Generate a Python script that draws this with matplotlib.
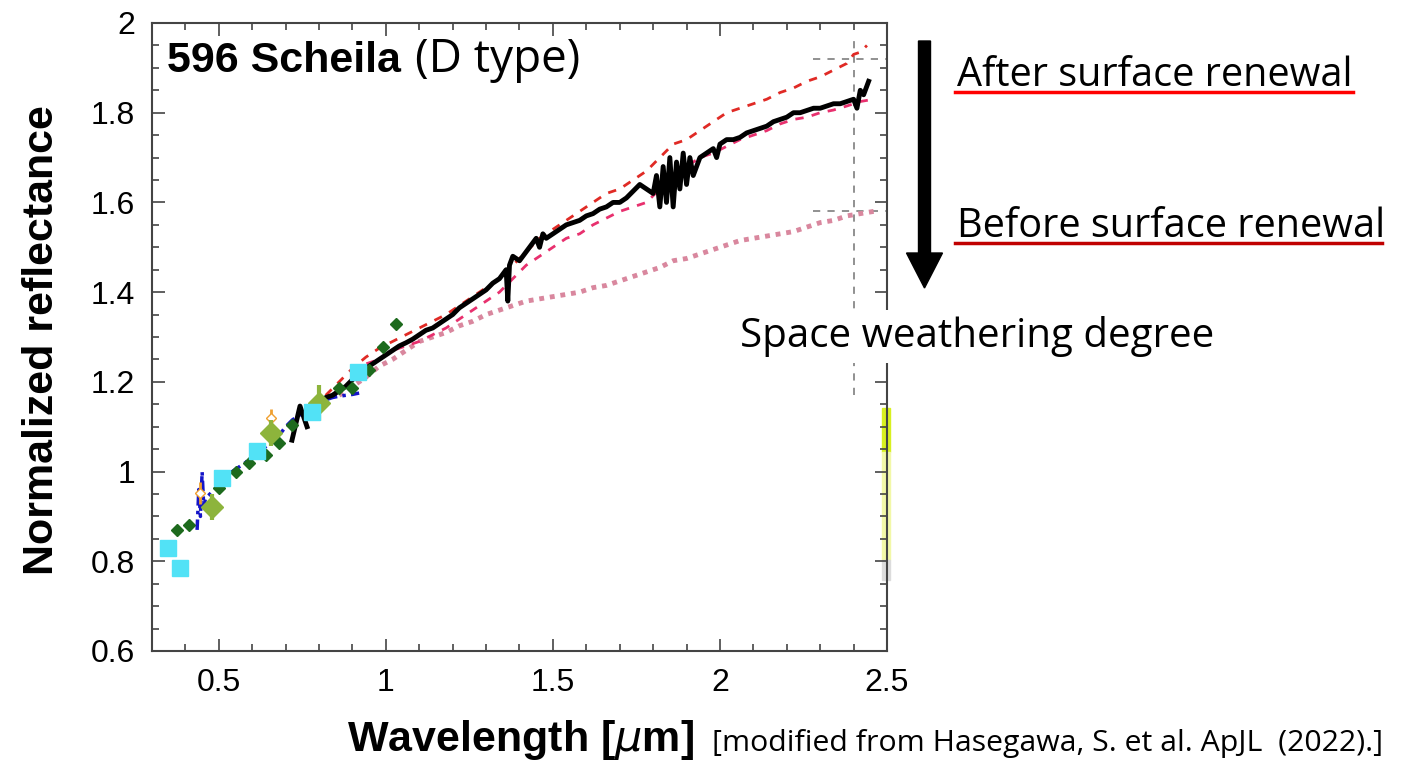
import numpy as np
import matplotlib
matplotlib.use("Agg")
import matplotlib.pyplot as plt
from matplotlib.patches import FancyArrow, Rectangle
from matplotlib.lines import Line2D
from matplotlib.ticker import MultipleLocator

# ---- data ----
# black thick line: Scheila after surface renewal
blk1_x = [0.719, 0.743, 0.764]
blk1_y = [1.07, 1.146, 1.10]
blk_x = [0.80, 0.82, 0.84, 0.86, 0.88, 0.90, 0.92, 0.94, 0.96, 0.98, 1.00, 1.02, 1.04, 1.06, 1.08,
         1.10, 1.12, 1.14, 1.16, 1.18, 1.20, 1.22, 1.24, 1.26, 1.28, 1.30, 1.32, 1.34, 1.35, 1.36,
         1.365, 1.37, 1.38, 1.40, 1.42, 1.44, 1.45, 1.46, 1.47, 1.48, 1.50, 1.52, 1.54, 1.56, 1.58,
         1.60, 1.62, 1.64, 1.66, 1.68, 1.70, 1.72, 1.74, 1.76, 1.78, 1.80, 1.81, 1.82, 1.83, 1.84,
         1.85, 1.86, 1.87, 1.88, 1.89, 1.90, 1.91, 1.92, 1.94, 1.96, 1.98, 1.99, 2.00, 2.02, 2.04,
         2.06, 2.08, 2.10, 2.12, 2.14, 2.16, 2.18, 2.20, 2.22, 2.24, 2.26, 2.28, 2.30, 2.32, 2.34,
         2.36, 2.38, 2.40, 2.41, 2.42, 2.43, 2.44, 2.445]
blk_y = [1.15, 1.165, 1.17, 1.18, 1.19, 1.205, 1.215, 1.23, 1.24, 1.25, 1.26, 1.27, 1.28, 1.287, 1.295,
         1.305, 1.315, 1.32, 1.33, 1.34, 1.35, 1.365, 1.375, 1.385, 1.395, 1.405, 1.42, 1.43, 1.44, 1.45,
         1.38, 1.46, 1.48, 1.47, 1.49, 1.51, 1.52, 1.50, 1.53, 1.52, 1.53, 1.54, 1.55, 1.555, 1.56,
         1.57, 1.575, 1.585, 1.59, 1.60, 1.60, 1.61, 1.625, 1.64, 1.63, 1.62, 1.66, 1.59, 1.68, 1.60,
         1.70, 1.59, 1.69, 1.63, 1.71, 1.64, 1.70, 1.66, 1.70, 1.71, 1.72, 1.70, 1.73, 1.74, 1.74,
         1.745, 1.755, 1.76, 1.765, 1.77, 1.78, 1.785, 1.79, 1.80, 1.80, 1.805, 1.81, 1.81, 1.815, 1.82,
         1.82, 1.825, 1.83, 1.81, 1.85, 1.84, 1.86, 1.87]

# red dashed (upper)
red_x = [0.82, 0.86, 0.90, 0.94, 0.98, 1.02, 1.06, 1.10, 1.14, 1.18, 1.22, 1.26, 1.30, 1.34, 1.38,
         1.42, 1.46, 1.50, 1.54, 1.58, 1.62, 1.66, 1.70, 1.74, 1.78, 1.82, 1.86, 1.90, 1.94, 1.98,
         2.02, 2.06, 2.10, 2.14, 2.18, 2.22, 2.26, 2.30, 2.34, 2.38, 2.40, 2.42, 2.44]
red_y = [1.17, 1.20, 1.23, 1.255, 1.275, 1.29, 1.305, 1.32, 1.335, 1.35, 1.37, 1.39, 1.41, 1.43, 1.46,
         1.49, 1.52, 1.54, 1.56, 1.58, 1.60, 1.62, 1.63, 1.65, 1.67, 1.70, 1.73, 1.74, 1.76, 1.78,
         1.80, 1.81, 1.82, 1.83, 1.845, 1.855, 1.87, 1.88, 1.895, 1.91, 1.93, 1.935, 1.95]

# magenta dashed (lower)
mag_x = [0.90, 0.94, 0.98, 1.02, 1.06, 1.10, 1.14, 1.18, 1.22, 1.26, 1.30, 1.34, 1.38, 1.42, 1.46,
         1.50, 1.54, 1.58, 1.62, 1.66, 1.70, 1.74, 1.78, 1.82, 1.86, 1.90, 1.94, 1.98, 2.02, 2.06,
         2.10, 2.14, 2.18, 2.22, 2.26, 2.30, 2.34, 2.38, 2.42, 2.46]
mag_y = [1.22, 1.24, 1.25, 1.27, 1.28, 1.29, 1.305, 1.32, 1.34, 1.36, 1.38, 1.40, 1.43, 1.46, 1.48,
         1.50, 1.52, 1.53, 1.55, 1.565, 1.58, 1.59, 1.60, 1.63, 1.66, 1.68, 1.70, 1.71, 1.725, 1.74,
         1.75, 1.76, 1.775, 1.785, 1.79, 1.80, 1.806, 1.815, 1.825, 1.83]

# pink dotted: before surface renewal
pnk_x = [0.86, 0.90, 0.94, 0.98, 1.02, 1.06, 1.10, 1.14, 1.18, 1.22, 1.26, 1.30, 1.34, 1.38, 1.42,
         1.46, 1.50, 1.54, 1.58, 1.62, 1.66, 1.70, 1.74, 1.78, 1.82, 1.86, 1.90, 1.94, 1.98, 2.02,
         2.06, 2.10, 2.14, 2.18, 2.22, 2.26, 2.30, 2.34, 2.38, 2.42, 2.46]
pnk_y = [1.17, 1.19, 1.21, 1.235, 1.25, 1.27, 1.29, 1.30, 1.31, 1.325, 1.335, 1.35, 1.36, 1.37, 1.38,
         1.385, 1.39, 1.395, 1.40, 1.41, 1.415, 1.425, 1.435, 1.445, 1.455, 1.47, 1.475, 1.485, 1.495, 1.505,
         1.515, 1.52, 1.525, 1.53, 1.535, 1.545, 1.555, 1.56, 1.57, 1.575, 1.58]

# blue dash-dot visible spectrum
blu_x = [0.435, 0.44, 0.445, 0.45, 0.455, 0.46, 0.48, 0.50, 0.52, 0.54, 0.56, 0.58, 0.60, 0.62, 0.64,
         0.66, 0.68, 0.70, 0.72, 0.74, 0.76, 0.78, 0.80, 0.82, 0.84, 0.86, 0.88, 0.90, 0.92]
blu_y = [0.87, 0.96, 0.90, 1.00, 0.92, 0.94, 0.955, 0.97, 0.985, 1.0, 1.01, 1.02, 1.035, 1.045, 1.055,
         1.065, 1.08, 1.10, 1.115, 1.125, 1.137, 1.145, 1.155, 1.16, 1.165, 1.168, 1.17, 1.172, 1.175]

# dark green diamonds
grn_x = [0.375, 0.41, 0.50, 0.55, 0.59, 0.64, 0.68, 0.72, 0.86, 0.90, 0.95, 0.99, 1.03]
grn_y = [0.87, 0.88, 0.963, 1.0, 1.02, 1.037, 1.064, 1.104, 1.186, 1.186, 1.226, 1.278, 1.33]

# cyan squares
cyn_x = [0.348, 0.384, 0.51, 0.614, 0.78, 0.917]
cyn_y = [0.83, 0.785, 0.986, 1.046, 1.133, 1.222]

# yellow-green diamonds with error bars
ylg_x = [0.48, 0.656, 0.80]
ylg_y = [0.921, 1.086, 1.152]
ylg_e = [0.03, 0.03, 0.04]

# orange points
org_x = [0.444, 0.656]
org_y = [0.952, 1.12]
org_e = [0.025, 0.02]

xticks = [0.5, 1, 1.5, 2, 2.5]
xlabels = ["0.5", "1", "1.5", "2", "2.5"]
yticks = [0.6, 0.8, 1, 1.2, 1.4, 1.6, 1.8, 2]
ylabels = ["0.6", "0.8", "1", "1.2", "1.4", "1.6", "1.8", "2"]

W, H = 1407, 762
fig = plt.figure(figsize=(W / 100, H / 100), dpi=100)
ax = fig.add_axes([152 / W, 1 - 651 / H, 735 / W, 628 / H])

# guide lines
ax.plot([2.40, 2.40], [1.17, 1.97], color="#888888", ls=(0, (4, 4)), lw=1.3, zorder=1)
ax.plot([2.28, 2.5], [1.92, 1.92], color="#888888", ls=(0, (4, 4)), lw=1.3, zorder=1)
ax.plot([2.28, 2.5], [1.58, 1.58], color="#888888", ls=(0, (4, 4)), lw=1.3, zorder=1)

ax.plot(pnk_x, pnk_y, color="#d9879e", ls=(0, (1, 1.2)), lw=3.5, zorder=2)
ax.plot(mag_x, mag_y, color="#e8306e", ls=(0, (3, 3)), lw=2, zorder=2)
ax.plot(red_x, red_y, color="#e02a25", ls=(0, (3, 3)), lw=2, zorder=2)
ax.plot(blu_x, blu_y, color="#1414c8", ls=(0, (3, 1.5, 1, 1.5)), lw=2.5, zorder=3)
ax.plot(blk1_x, blk1_y, color="black", lw=3.5, zorder=4)
ax.plot(blk_x, blk_y, color="black", lw=3.5, zorder=4)

ax.plot(grn_x, grn_y, ls="none", marker="D", ms=6, color="#1d6a1d", zorder=5)
ax.errorbar(org_x, org_y, yerr=org_e, fmt="D", ms=5, mfc="white", mec="#f0a030",
            ecolor="#f0a030", elinewidth=2, zorder=5)
ax.errorbar(ylg_x, ylg_y, yerr=ylg_e, fmt="D", ms=11, color="#8db43c",
            ecolor="#8db43c", elinewidth=3, zorder=6)
ax.plot(cyn_x, cyn_y, ls="none", marker="s", ms=12, color="#52e2f6", zorder=7)

ax.set_xlim(0.3, 2.5)
ax.set_ylim(0.6, 2.0)
ax.set_xticks(xticks)
ax.set_xticklabels(xlabels)
ax.set_yticks(yticks)
ax.set_yticklabels(ylabels)
ax.xaxis.set_minor_locator(MultipleLocator(0.1))
ax.yaxis.set_minor_locator(MultipleLocator(0.05))
ax.tick_params(which="both", direction="in", top=True, right=True, color="#444444", width=1.2,
               labelsize=23, labelfontfamily="Liberation Sans")
ax.tick_params(which="major", length=9, pad=12)
ax.tick_params(which="minor", length=5)
for s in ax.spines.values():
    s.set_color("#444444")
    s.set_linewidth(1.5)

ax.set_xlabel("Wavelength [$\\mu$m]", fontsize=31, fontweight="bold", family="Liberation Sans")
ax.set_ylabel("Normalized reflectance", fontsize=31, fontweight="bold", family="Liberation Sans")
ax.xaxis.set_label_coords((521 - 152) / 735, (651 - 740) / 628)
ax.xaxis.label.set_va("center")
ax.yaxis.set_label_coords((42 - 152) / 735, (651 - 340) / 628)
ax.yaxis.label.set_va("center")

# titles and notes
fig.text(167 / W, 1 - 72 / H, "596 Scheila", fontsize=31, fontweight="bold",
         family="Liberation Sans", va="baseline")
fig.text(415 / W, 1 - 72 / H, "(D type)", fontsize=33, family="Open Sans", va="baseline")

fig.text(957 / W, 1 - 86 / H, "After surface renewal", fontsize=28.5, family="Open Sans", va="baseline")
fig.text(957 / W, 1 - 237 / H, "Before surface renewal", fontsize=28.5, family="Open Sans", va="baseline")
fig.add_artist(Line2D([955 / W, 1353 / W], [1 - 92 / H] * 2, color="#ff0000", lw=2.5,
                      transform=fig.transFigure))
fig.add_artist(Line2D([955 / W, 1382 / W], [1 - 243 / H] * 2, color="#c00000", lw=2.5,
                      transform=fig.transFigure))
fig.text(740 / W, 1 - 347 / H, "Space weathering degree", fontsize=29, family="Open Sans",
         va="baseline", bbox=dict(facecolor="white", edgecolor="none", pad=4))
fig.text(712 / W, 1 - 751 / H, "[modified from Hasegawa, S. et al. ApJL  (2022).]", fontsize=21.8,
         family="Open Sans", va="baseline")

# arrow
fig.add_artist(FancyArrow(9.245, (H - 41) / 100, 0, -2.12, width=0.12, head_width=0.36,
                          head_length=0.35, length_includes_head=False, color="black",
                          transform=fig.dpi_scale_trans))

# clipped legend remains on the right edge (under the spine)
for y0, h, c in [(452, 44, "#d8f020"), (560, 108, "#f2f8a8"), (580, 20, "#dcdcdc")]:
    ax.add_patch(Rectangle((882 / W, 1 - y0 / H), 8 / W, h / H, color=c,
                           transform=fig.transFigure, clip_on=False, zorder=0.5))

fig.savefig("out.png", dpi=100)
